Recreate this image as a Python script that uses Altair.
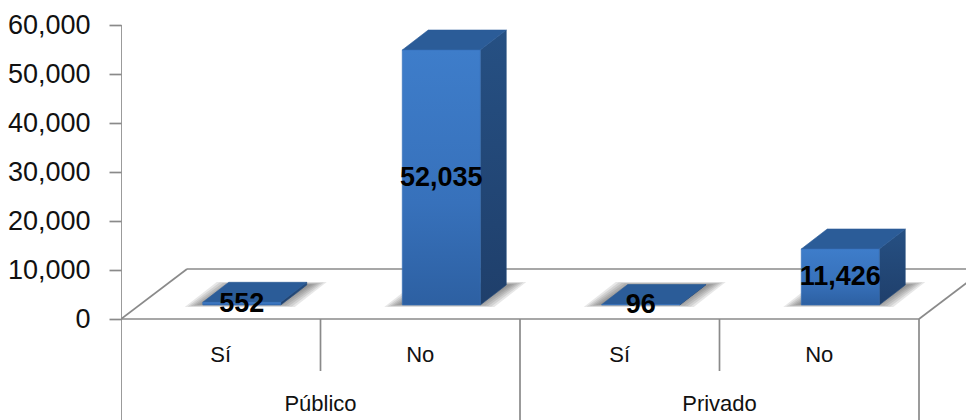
import altair as alt
import pandas as pd

# --- chart values ---
groups = ["Público", "Privado"]
answers = ["Sí", "No", "Sí", "No"]
values = [552, 52035, 96, 11426]
y_ticks = [0, 10000, 20000, 30000, 40000, 50000, 60000]

# --- scale set-up: one x unit is one category slot, y is in data units ---
SLOT_PX = 199.5
UNIT_PX = 294 / 60000            # pixels per data unit
PLOT_W = 845
X_MAX = PLOT_W / SLOT_PX
Y_TOP = 311 / UNIT_PX
Y_BOTTOM = -101 / UNIT_PX
xpx = lambda p: p / SLOT_PX      # horizontal pixel length -> x units
ypx = lambda p: p / UNIT_PX      # vertical pixel length -> y units

BASE = ypx(14)                   # bars stand on the floor, behind its front edge
BAR_W = xpx(78)
BAR_SHIFT = xpx(21)
DEPTH_X = xpx(26)
DEPTH_Y = ypx(20)
FLOOR_X = xpx(66)
FLOOR_Y = ypx(50)
GREY = "#8a8a8a"
FONT = "Liberation Sans"

x_scale = alt.Scale(domain=[0, X_MAX], nice=False, zero=False)
y_scale = alt.Scale(domain=[Y_BOTTOM, Y_TOP], nice=False, zero=False)
Y_AXIS = alt.Axis(
    values=y_ticks, labelExpr="format(datum.value, ',')", title=None, grid=False, domain=False,
    tickColor=GREY, tickSize=12, tickWidth=1.7, labelPadding=19,
    labelFont=FONT, labelFontSize=27, labelColor="#111111",
)
Y_ENC = alt.Y("y:Q", scale=y_scale, axis=Y_AXIS)
X_ENC = alt.X("x:Q", scale=x_scale, axis=None)

# faces
front, top, side, labels, shadows = [], [], [], [], []
for i, v in enumerate(values):
    x0 = i + 0.5 + BAR_SHIFT - BAR_W / 2
    x1 = x0 + BAR_W
    yb, yt = BASE, BASE + v
    front += [dict(k=i, x=x0, y=yt, y2=yb), dict(k=i, x=x1, y=yt, y2=yb)]
    top += [
        dict(k=i, x=x0, y=yt, y2=yt),
        dict(k=i, x=x0 + DEPTH_X, y=yt + DEPTH_Y, y2=yt),
        dict(k=i, x=x1, y=yt + DEPTH_Y, y2=yt),
        dict(k=i, x=x1 + DEPTH_X, y=yt + DEPTH_Y, y2=yt + DEPTH_Y),
    ]
    side += [
        dict(k=i, x=x1, y=yt, y2=yb),
        dict(k=i, x=x1 + DEPTH_X, y=yt + DEPTH_Y, y2=yb + DEPTH_Y),
    ]
    labels.append(dict(x=(x0 + x1) / 2, y=(yb + yt) / 2, t=f"{v:,}"))
    # soft floor shadow, nested shapes fade towards the outside
    for lvl, grow in enumerate([0, 3, 6, 9, 12, 15]):
        ax = x0 - xpx(18 - grow)
        bx = x1 + xpx(20 - grow) - xpx(32) + DEPTH_X
        by0 = BASE - ypx(2 - grow / 6)
        by1 = BASE + ypx(23 - grow / 6)
        sk = xpx(32)
        shadows += [
            dict(k=f"{i}-{lvl}", x=ax, y=by0, y2=by0),
            dict(k=f"{i}-{lvl}", x=ax + sk, y=by1, y2=by0),
            dict(k=f"{i}-{lvl}", x=bx, y=by1, y2=by0),
            dict(k=f"{i}-{lvl}", x=bx + sk, y=by1, y2=by1),
        ]


def faces(rows, **mark):
    return alt.Chart(pd.DataFrame(rows)).mark_area(**mark).encode(
        x=X_ENC, y=Y_ENC, y2="y2:Q", detail="k:N",
    )


def lines(rows):
    return alt.Chart(pd.DataFrame(rows)).mark_line(color=GREY, strokeWidth=1.7, clip=True).encode(
        x=X_ENC, y=Y_ENC, detail="k:N",
    )


sep_short = ypx(-52)
floor_rows = []
def seg(k, a, b):
    floor_rows.extend([dict(k=k, x=a[0], y=a[1]), dict(k=k, x=b[0], y=b[1])])

seg("front", (0, 0), (4, 0))
seg("back", (FLOOR_X, FLOOR_Y), (X_MAX, FLOOR_Y))
seg("left", (0, 0), (FLOOR_X, FLOOR_Y))
seg("right", (4, 0), (4 + FLOOR_X, FLOOR_Y))
seg("axis", (0, 0), (0, 60000))
for n in [0, 2, 4]:
    seg(f"long{n}", (n, 0), (n, Y_BOTTOM))
for n in [1, 3]:
    seg(f"short{n}", (n, 0), (n, sep_short))

front_grad = alt.Gradient(
    gradient="linear", x1=0, y1=0, x2=0, y2=1,
    stops=[
        alt.GradientStop(color="#3e7dca", offset=0),
        alt.GradientStop(color="#3771bb", offset=0.6),
        alt.GradientStop(color="#2d60a2", offset=1),
    ],
)
side_grad = alt.Gradient(
    gradient="linear", x1=0, y1=0, x2=0, y2=1,
    stops=[
        alt.GradientStop(color="#265083", offset=0),
        alt.GradientStop(color="#1f3f6b", offset=1),
    ],
)

cat_rows = [dict(x=i + 0.5, y=ypx(-36), t=a) for i, a in enumerate(answers)]
grp_rows = [dict(x=2 * i + 1, y=ypx(-85), t=g) for i, g in enumerate(groups)]


def texts(rows, **mark):
    return alt.Chart(pd.DataFrame(rows)).mark_text(font=FONT, **mark).encode(
        x=X_ENC, y=Y_ENC, text="t:N",
    )


chart = alt.layer(
    lines(floor_rows),
    faces(shadows, color="#444444", opacity=0.13),
    faces(side, color=side_grad, stroke="#23497a", strokeWidth=0.6),
    faces(top, color="#2b5c98", stroke="#2b5c98", strokeWidth=0.6, strokeJoin="round"),
    faces(front, color=front_grad, stroke="#3570b8", strokeWidth=0.6),
    texts(cat_rows, fontSize=22, color="#111111"),
    texts(grp_rows, fontSize=22, color="#111111"),
    texts(labels, fontSize=27, fontWeight="bold", color="#000000"),
).properties(
    width=PLOT_W,
    height=412,
    padding={"left": 113, "top": 0, "right": 0, "bottom": 0},
    autosize=alt.AutoSizeParams(type="none"),
).configure_view(stroke=None)

chart.save("out.html", embed_options={"renderer": "svg", "actions": False})
